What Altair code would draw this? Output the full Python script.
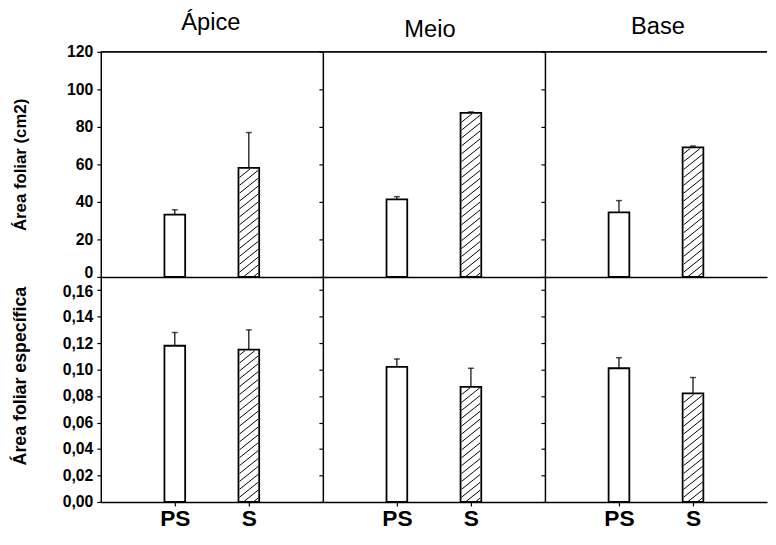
import altair as alt
import pandas as pd

# ---- data ----
treatments = ["PS", "S"]
locations = ["Ápice", "Meio", "Base"]

# Área foliar (cm2): mean and error per location (PS, S)
area_mean = [[33.2, 58.1], [41.4, 87.5], [34.4, 69.1]]
area_err = [[2.6, 18.9], [1.4, 0.5], [6.3, 0.7]]

# Área foliar específica: mean and error per location (PS, S)
afe_mean = [[0.118, 0.115], [0.102, 0.087], [0.101, 0.082]]
afe_err = [[0.010, 0.015], [0.006, 0.014], [0.008, 0.012]]

area_ticks = [0, 20, 40, 60, 80, 100, 120]
afe_ticks = [0.00, 0.02, 0.04, 0.06, 0.08, 0.10, 0.12, 0.14, 0.16]

row_titles = ["Área foliar (cm2)", "Área foliar específica"]
title_dx = [-1, -4, 2]
title_dy = [-1, -1, -4]

# ---- layout / style ----
W, H = 225, 228
XDOM = [0, len(treatments) + 1]
XPPU = W / XDOM[1]
BAR_PX = 21
FONT = "Liberation Sans"


def hatch(center, value, ppu, half_px=9.5, slope=0.8, gap=8.0):
    """diagonal hatch segments inside a bar, in data units"""
    wpx = 2 * half_px
    hpx = value * ppu - 1.0
    segs = []
    c = -slope * wpx + gap / 2
    while c < hpx:
        x0 = max(0.0, -c / slope)
        x1 = min(wpx, (hpx - c) / slope)
        if x1 - x0 > 0.8:
            segs.append({
                "x": center + (x0 - half_px) / XPPU,
                "y": max(0.0, c + slope * x0) / ppu,
                "x2": center + (x1 - half_px) / XPPU,
                "y2": (c + slope * x1) / ppu,
            })
        c += gap
    return segs


def panel(row, col):
    means = area_mean[col] if row == 0 else afe_mean[col]
    errs = area_err[col] if row == 0 else afe_err[col]
    ticks = area_ticks if row == 0 else afe_ticks
    ymax = 120 if row == 0 else 0.17
    ppu = H / ymax
    df = pd.DataFrame({
        "trat": treatments,
        "pos": [i + 1 for i in range(len(treatments))],
        "mean": means,
        "upper": [m + e for m, e in zip(means, errs)],
    })
    hdf = pd.DataFrame(hatch(df["pos"][1], df["mean"][1], ppu))

    xscale = alt.Scale(domain=XDOM, nice=False, zero=False, padding=0)
    yscale = alt.Scale(domain=[0, ymax], nice=False, zero=True, padding=0)

    if row == 0:
        ylab = "format(datum.value, 'd')"
        loff = {"condition": {"test": "datum.value == 0", "value": -4}, "value": 0}
    else:
        ylab = "replace(format(datum.value, '.2f'), '.', ',')"
        loff = {"condition": {"test": "datum.value > 0.155", "value": 1}, "value": 0}

    if col == 0:
        extra = dict(titleY=100) if row == 1 else {}
        yaxis = alt.Axis(values=ticks, tickCount=len(ticks), labelExpr=ylab,
                         labelOverlap=False, labelOffset=loff,
                         tickSize=4, title=row_titles[row], titlePadding=22,
                         titleFontSize=17 if row == 0 else 18,
                         minExtent=50, maxExtent=50, **extra)
    else:
        yaxis = alt.Axis(values=ticks, tickCount=len(ticks), labels=False,
                         tickSize=4, title="", minExtent=4, maxExtent=4)

    if row == 1:
        expr = "[" + ",".join("'%s'" % t for t in treatments) + "][datum.value - 1]"
        xaxis = alt.Axis(values=[i + 1 for i in range(len(treatments))],
                         tickCount=len(treatments),
                         labelExpr=expr, tickSize=4, labelPadding=2,
                         labelFontSize=23, labelFontWeight="bold", title="")
    else:
        xaxis = alt.Axis(ticks=False, labels=False, domain=True, title="")

    bars = alt.Chart(df).mark_bar(size=BAR_PX, fill="white", stroke="black",
                                  strokeWidth=1.8).encode(
        x=alt.X("pos:Q", scale=xscale, axis=xaxis),
        y=alt.Y("mean:Q", scale=yscale, axis=yaxis),
    )
    hat = alt.Chart(hdf).mark_rule(stroke="black", strokeWidth=1).encode(
        x=alt.X("x:Q", scale=xscale),
        y=alt.Y("y:Q", scale=yscale),
        x2="x2:Q",
        y2="y2:Q",
    )
    err = alt.Chart(df).mark_rule(stroke="black", strokeWidth=1.2).encode(
        x=alt.X("pos:Q", scale=xscale),
        y=alt.Y("mean:Q", scale=yscale),
        y2="upper:Q",
    )
    cap = alt.Chart(df).mark_tick(orient="horizontal", size=6, thickness=1.5,
                                  color="black").encode(
        x=alt.X("pos:Q", scale=xscale),
        y=alt.Y("upper:Q", scale=yscale),
    )
    layers = [bars, hat, err, cap]
    if row == 0:
        top = alt.Chart(df).mark_rule(stroke="black", strokeWidth=1.5).encode(
            x=alt.datum(XDOM[0], scale=xscale),
            x2=alt.datum(XDOM[1]),
            y=alt.datum(ymax, scale=yscale),
        )
        layers.append(top)
    layer = alt.layer(*layers)
    props = dict(width=W, height=H)
    if row == 0:
        props["title"] = alt.TitleParams(
            text=locations[col], fontSize=24, fontWeight="normal", font=FONT,
            color="black", offset=8, dx=title_dx[col], dy=title_dy[col])
    return layer.properties(**props)


panels = [panel(r, c) for r in range(2) for c in range(len(locations))]

chart = alt.concat(*panels, columns=len(locations), spacing=0,
                   bounds="flush").properties(
    padding={"left": 4, "top": 0, "right": 0, "bottom": 0}
).configure(font=FONT).configure_view(stroke=None).configure_axis(
    grid=False,
    domainColor="black",
    domainWidth=1.5,
    tickColor="black",
    tickWidth=1.2,
    labelColor="black",
    labelFont=FONT,
    labelFontSize=16,
    labelFontWeight="bold",
    labelPadding=4,
    titleColor="black",
    titleFont=FONT,
    titleFontSize=17,
    titleFontWeight="bold",
)

chart.save("out.html", embed_options={"renderer": "svg", "actions": False})
